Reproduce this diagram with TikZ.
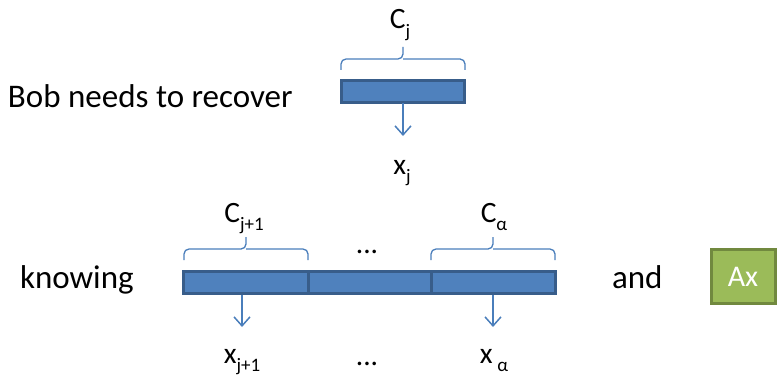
\documentclass[tikz,border=0pt]{standalone}
\usepackage{fontspec}
\setmainfont{Carlito}
\usetikzlibrary{arrows.meta}
\definecolor{barfill}{HTML}{4F81BD}
\definecolor{barline}{HTML}{385D8A}
\definecolor{linkblue}{HTML}{4A7EBB}
\definecolor{axfill}{HTML}{9BBB59}
\definecolor{axline}{HTML}{71893F}
\newcommand{\bigtxt}{\fontsize{33}{38}\selectfont}
\newcommand{\labtxt}{\fontsize{29.5}{34}\selectfont}
\newcommand{\subtxt}[1]{\raisebox{-0.3em}{\fontsize{19}{21}\selectfont #1}}
\tikzset{
  bar/.style={draw=barline, fill=barfill, line width=3pt, minimum height=22pt, inner sep=0pt, outer sep=0pt},
  link/.style={draw=linkblue, line width=1.5pt, -{Straight Barb[length=9pt, width=16pt, line width=1.5pt]}},
  bracepath/.style={draw=linkblue, line width=1.3pt, rounded corners=5pt},
  txt/.style={inner sep=0pt, outer sep=0pt, text=black}
}
\begin{document}
\begin{tikzpicture}[x=1pt, y=-1pt]
\useasboundingbox (0,0) rectangle (778,377);

% opening line
\node[txt, anchor=base west] (bob) at (8,108) {\bigtxt Bob needs to recover};

% single block C_j
\node[bar, minimum width=123pt] (cj) at (403,92) {};
\draw[bracepath] (341,70) -- (341,59) -- (403,59) -- (403,47);
\draw[bracepath] (465,70) -- (465,59) -- (403,59);
\node[txt, anchor=base] (lcj) at (400,29) {\labtxt C\subtxt{j}};
\coordinate (ej) at (403,136);
\draw[link] (cj.south) -- (ej);
\node[txt, anchor=base] (xj) at (402,174) {\labtxt x\subtxt{j}};

% second line
\node[txt, anchor=base west] (know) at (20,288) {\bigtxt knowing};

% row of blocks
\node[bar, minimum width=125pt] (b1) at (245.5,282.5) {};
\node[bar, minimum width=123pt] (b2) at (369.5,282.5) {};
\node[bar, minimum width=124pt] (b3) at (493,282.5) {};

\draw[bracepath] (184,260) -- (184,249) -- (246,249) -- (246,237);
\draw[bracepath] (308,260) -- (308,249) -- (246,249);
\draw[bracepath] (431,260) -- (431,249) -- (493,249) -- (493,237);
\draw[bracepath] (555,260) -- (555,249) -- (493,249);

\node[txt, anchor=base] (lc1) at (244,222) {\labtxt C\subtxt{j+1}};
\node[txt, anchor=base] (lca) at (494,222) {\labtxt C\subtxt{α}};
\node[txt, anchor=base] (dtop) at (367,253) {\labtxt ...};

\coordinate (e1) at (242,327);
\coordinate (e3) at (493,327);
\draw[link] (242,295) -- (e1);
\draw[link] (493,295) -- (e3);

\node[txt, anchor=base] (x1) at (242,363) {\labtxt x\subtxt{j+1}};
\node[txt, anchor=base] (dbot) at (367,365) {\labtxt ...};
\node[txt, anchor=base] (xa) at (494,363) {\labtxt x\,\subtxt{α}};

\node[txt, anchor=base west] (and) at (612,288) {\bigtxt and};
\node[draw=axline, fill=axfill, line width=3pt, minimum width=64pt, minimum height=54pt, inner sep=0pt] (ax) at (743,276) {};
\node[txt, text=white, anchor=base] at (743,286) {\fontsize{30}{34}\selectfont Ax};
\end{tikzpicture}
\end{document}
